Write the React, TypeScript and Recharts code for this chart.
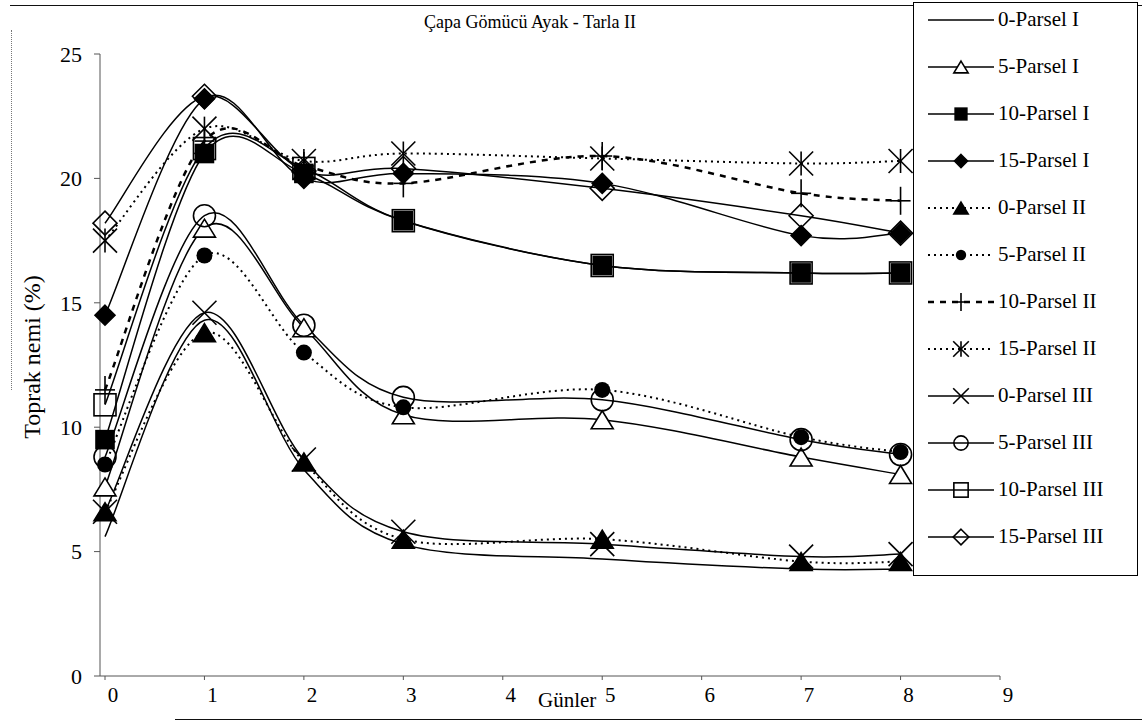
import React from "react";
import { LineChart, Line, XAxis, YAxis } from "recharts";

// days measured (x), Günler
const days = [0, 1, 2, 3, 5, 7, 8];
const xTicks = [0, 1, 2, 3, 4, 5, 6, 7, 8, 9];
const yTicks = [0, 5, 10, 15, 20, 25];

// Toprak nemi (%) per series
const p0_I = [5.6, 14.3, 8.3, 5.3, 4.7, 4.3, 4.3];
const p5_I = [7.6, 18.0, 14.0, 10.5, 10.3, 8.8, 8.1];
const p10_I = [9.5, 21.0, 20.2, 18.3, 16.5, 16.2, 16.2];
const p15_I = [14.5, 23.2, 20.0, 20.2, 19.8, 17.7, 17.8];
const p0_II = [6.6, 13.8, 8.6, 5.5, 5.5, 4.6, 4.6];
const p5_II = [8.5, 16.9, 13.0, 10.8, 11.5, 9.6, 9.0];
const p10_II = [11.5, 21.5, 20.5, 19.8, 20.9, 19.4, 19.1];
const p15_II = [17.5, 22.0, 20.7, 21.0, 20.8, 20.6, 20.7];
const p0_III = [6.6, 14.6, 8.7, 5.8, 5.3, 4.8, 4.9];
const p5_III = [8.8, 18.5, 14.1, 11.2, 11.1, 9.5, 8.9];
const p10_III = [10.9, 21.2, 20.4, 18.3, 16.5, 16.2, 16.2];
const p15_III = [18.2, 23.3, 20.3, 20.4, 19.6, 18.5, 17.8];

const seriesNames = [
	"0-Parsel I",
	"5-Parsel I",
	"10-Parsel I",
	"15-Parsel I",
	"0-Parsel II",
	"5-Parsel II",
	"10-Parsel II",
	"15-Parsel II",
	"0-Parsel III",
	"5-Parsel III",
	"10-Parsel III",
	"15-Parsel III",
];
const seriesValues = [
	p0_I, p5_I, p10_I, p15_I,
	p0_II, p5_II, p10_II, p15_II,
	p0_III, p5_III, p10_III, p15_III,
];

type MarkerKind =
	| "none"
	| "triOpen"
	| "triFill"
	| "sqOpen"
	| "sqFill"
	| "diaOpen"
	| "diaFill"
	| "cirOpen"
	| "cirFill"
	| "plus"
	| "star"
	| "cross";

const seriesStyle: { marker: MarkerKind; dash?: string; width: number }[] = [
	{ marker: "none", width: 1.5 },
	{ marker: "triOpen", width: 1.5 },
	{ marker: "sqFill", width: 1.5 },
	{ marker: "diaFill", width: 1.5 },
	{ marker: "triFill", dash: "2 4", width: 2 },
	{ marker: "cirFill", dash: "2 4", width: 2 },
	{ marker: "plus", dash: "6 6", width: 2.5 },
	{ marker: "star", dash: "2 4", width: 2 },
	{ marker: "cross", width: 1.5 },
	{ marker: "cirOpen", width: 1.5 },
	{ marker: "sqOpen", width: 1.5 },
	{ marker: "diaOpen", width: 1.5 },
];

const rows = days.map((d, i) => {
	const row: Record<string, number> = { day: d };
	seriesNames.forEach((n, s) => {
		row[n] = seriesValues[s][i];
	});
	return row;
});

// smooth line like the spreadsheet's "smoothed line" (Catmull-Rom)
function smoothCurve(context: any) {
	let pts: number[][] = [];
	return {
		areaStart() {},
		areaEnd() {},
		lineStart() {
			pts = [];
		},
		lineEnd() {
			if (!pts.length) return;
			context.moveTo(pts[0][0], pts[0][1]);
			const k = 1 / 6;
			for (let i = 0; i < pts.length - 1; i++) {
				const p0 = pts[i - 1] || pts[i];
				const p1 = pts[i];
				const p2 = pts[i + 1];
				const p3 = pts[i + 2] || p2;
				context.bezierCurveTo(
					p1[0] + (p2[0] - p0[0]) * k,
					p1[1] + (p2[1] - p0[1]) * k,
					p2[0] - (p3[0] - p1[0]) * k,
					p2[1] - (p3[1] - p1[1]) * k,
					p2[0],
					p2[1]
				);
			}
		},
		point(x: number, y: number) {
			pts.push([+x, +y]);
		},
	};
}

function Marker({ cx, cy, kind, s = 1 }: { cx: number; cy: number; kind: MarkerKind; s?: number }) {
	const k = "#000";
	switch (kind) {
		case "triOpen":
		case "triFill": {
			const w = 11 * s, h = 18 * s;
			return (
				<polygon
					points={`${cx},${cy - h / 2} ${cx + w},${cy + h / 2} ${cx - w},${cy + h / 2}`}
					fill={kind === "triFill" ? k : "#fff"}
					stroke={k}
					strokeWidth={1.6}
				/>
			);
		}
		case "sqOpen":
		case "sqFill": {
			const h = (kind === "sqOpen" ? 11 : 9) * s;
			return (
				<rect
					x={cx - h}
					y={cy - h}
					width={2 * h}
					height={2 * h}
					fill={kind === "sqFill" ? k : "#fff"}
					fillOpacity={kind === "sqOpen" ? 0 : 1}
					stroke={k}
					strokeWidth={1.6}
				/>
			);
		}
		case "diaOpen":
		case "diaFill": {
			const h = (kind === "diaOpen" ? 12 : 10) * s;
			return (
				<polygon
					points={`${cx},${cy - h} ${cx + h},${cy} ${cx},${cy + h} ${cx - h},${cy}`}
					fill={kind === "diaFill" ? k : "#fff"}
					fillOpacity={kind === "diaOpen" ? 0 : 1}
					stroke={k}
					strokeWidth={1.6}
				/>
			);
		}
		case "cirOpen":
			return <circle cx={cx} cy={cy} r={11 * s} fill="none" stroke={k} strokeWidth={1.6} />;
		case "cirFill":
			return <circle cx={cx} cy={cy} r={8 * s} fill={k} />;
		case "plus": {
			const v = 14 * s, h = 10 * s;
			return (
				<g stroke={k} strokeWidth={1.6}>
					<line x1={cx} y1={cy - v} x2={cx} y2={cy + v} />
					<line x1={cx - h} y1={cy} x2={cx + h} y2={cy} />
				</g>
			);
		}
		case "star": {
			const h = 12 * s;
			return (
				<g stroke={k} strokeWidth={1.6}>
					<line x1={cx - h} y1={cy - h} x2={cx + h} y2={cy + h} />
					<line x1={cx - h} y1={cy + h} x2={cx + h} y2={cy - h} />
					<line x1={cx} y1={cy - h} x2={cx} y2={cy + h} />
				</g>
			);
		}
		case "cross": {
			const h = 12 * s;
			return (
				<g stroke={k} strokeWidth={1.6}>
					<line x1={cx - h} y1={cy - h} x2={cx + h} y2={cy + h} />
					<line x1={cx - h} y1={cy + h} x2={cx + h} y2={cy - h} />
				</g>
			);
		}
		default:
			return null;
	}
}

const serif = "'Liberation Serif', 'Times New Roman', serif";

function LegendBox() {
	return (
		<div
			style={{
				position: "absolute",
				left: 913,
				top: 2,
				width: 225,
				height: 574,
				border: "1.5px solid #000",
				background: "#fff",
				boxSizing: "border-box",
				paddingTop: 0,
			}}
		>
			{seriesNames.map((name, i) => {
				const st = seriesStyle[i];
				return (
					<div key={name} style={{ display: "flex", alignItems: "center", height: 47, marginTop: i === 0 ? -7 : 0 }}>
						<svg width={84} height={30} style={{ flex: "none" }}>
							<line
								x1={14}
								y1={15}
								x2={80}
								y2={15}
								stroke="#000"
								strokeWidth={st.width}
								strokeDasharray={st.dash}
							/>
							<Marker cx={47} cy={15} kind={st.marker} s={0.65} />
						</svg>
						<span style={{ fontFamily: serif, fontSize: 21, color: "#000", whiteSpace: "nowrap" }}>
							{name}
						</span>
					</div>
				);
			})}
		</div>
	);
}

function XTick(p: any) {
	return (
		<text
			x={p.x + 8}
			y={p.y}
			dy={16}
			textAnchor="middle"
			fill="#000"
			fontSize={21}
			fontFamily={serif}
		>
			{p.payload.value}
		</text>
	);
}

export default function App() {
	return (
		<div style={{ position: "relative", width: 1142, height: 727, background: "#fff", overflow: "hidden" }}>
			<style>{"body{margin:0}"}</style>
			{/* scanned frame */}
			<div style={{ position: "absolute", left: 10, top: 5, width: 1132, borderTop: "1.5px solid #111" }} />
			<div style={{ position: "absolute", left: 11, top: 30, height: 360, borderLeft: "1px dotted #777" }} />
			<div style={{ position: "absolute", left: 175, top: 719, width: 967, borderTop: "1.5px solid #111" }} />

			<LineChart
				width={1142}
				height={727}
				data={rows}
				margin={{ top: 54, right: 142, bottom: 21, left: 0 }}
			>
				<XAxis
					dataKey="day"
					type="number"
					domain={[0, 9]}
					ticks={xTicks}
					interval={0}
					padding={{ left: 5, right: 0 }}
					height={30}
					stroke="#555"
					tickSize={4}
					tickMargin={6}
					tick={<XTick />}
				/>
				<YAxis
					type="number"
					domain={[0, 25]}
					ticks={yTicks}
					width={100}
					stroke="#555"
					tickSize={6}
					tickMargin={12}
					tick={{ fill: "#000", fontSize: 22, fontFamily: serif }}
				/>
				{seriesNames.map((name, i) => {
					const st = seriesStyle[i];
					return (
						<Line
							key={name}
							dataKey={name}
							type={smoothCurve as any}
							stroke="#000"
							strokeWidth={st.width}
							strokeDasharray={st.dash}
							isAnimationActive={false}
							dot={
								st.marker === "none"
									? false
									: (p: any) => (
											<Marker key={`${name}-${p.index}`} cx={p.cx} cy={p.cy} kind={st.marker} />
									  )
							}
							activeDot={false}
						/>
					);
				})}
			</LineChart>

			<div
				style={{
					position: "absolute",
					left: 390,
					top: 12,
					width: 280,
					textAlign: "center",
					fontFamily: serif,
					fontSize: 18,
					color: "#000",
					whiteSpace: "nowrap",
				}}
			>
				Çapa Gömücü Ayak - Tarla II
			</div>
			<div
				style={{
					position: "absolute",
					left: 32,
					top: 357,
					transform: "translate(-50%, -50%) rotate(-90deg)",
					fontFamily: serif,
					fontSize: 24,
					color: "#000",
					whiteSpace: "nowrap",
				}}
			>
				Toprak nemi (%)
			</div>
			<div
				style={{
					position: "absolute",
					left: 538,
					top: 688,
					fontFamily: serif,
					fontSize: 21,
					color: "#000",
					background: "#fff",
				}}
			>
				Günler
			</div>
			<LegendBox />
		</div>
	);
}
